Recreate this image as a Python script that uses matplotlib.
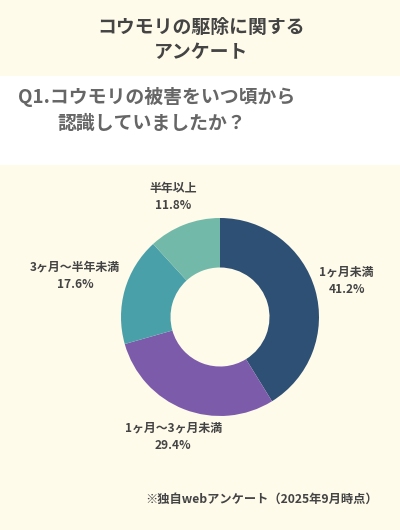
import numpy as np
import matplotlib
matplotlib.use("Agg")
import matplotlib.pyplot as plt
from matplotlib.patches import Rectangle

plt.rcParams['font.family'] = ['Noto Sans CJK JP', 'DejaVu Sans']

categories = ["1ヶ月未満", "1ヶ月〜3ヶ月未満", "3ヶ月〜半年未満", "半年以上"]
values = [41.2, 29.4, 17.6, 11.8]
colors = ["#2e5074", "#7d5bab", "#4aa0a9", "#73b9a9"]
title = "コウモリの駆除に関する\nアンケート"
question_1 = "Q1.コウモリの被害をいつ頃から"
question_2 = "認識していましたか？"
footer = "※独自webアンケート（2025年9月時点）"

W, H = 400, 530
BG = "#fefbeb"
fig = plt.figure(figsize=(W / 100, H / 100), dpi=100, facecolor=BG)

def fx(x):
    return x / W

def fy(y):
    return 1 - y / H

# white band behind the question
fig.patches.append(Rectangle((0, fy(165)), 1, (165 - 76) / H, transform=fig.transFigure,
                             facecolor="white", edgecolor="none", zorder=0))

fig.text(fx(201), fy(40), title, ha="center", va="center", fontsize=13.6, fontweight="bold",
         color="#444444", linespacing=1.4)
fig.text(fx(18), fy(97), question_1, ha="left", va="center", fontsize=13.6, fontweight="bold",
         color="#666666")
fig.text(fx(57), fy(123), question_2, ha="left", va="center", fontsize=13.6, fontweight="bold",
         color="#666666")
fig.text(fx(378), fy(499), footer, ha="right", va="center", fontsize=8.8, fontweight="bold",
         color="#444444")

cx, cy, r = 220, 317, 99
ax = fig.add_axes([fx(cx - r), fy(cy + r), 2 * r / W, 2 * r / H])
ax.set_facecolor("none")
wedges, _ = ax.pie(values, colors=colors, startangle=90, counterclock=False, radius=1.0,
                   wedgeprops=dict(width=0.5, edgecolor="none"))
ax.set_xlim(-1, 1)
ax.set_ylim(-1, 1)
ax.set_aspect("equal")
ax.axis("off")

label_dist = [1.33, 1.3, 1.52, 1.3]
for w, cat, v, d in zip(wedges, categories, values, label_dist):
    ang = np.deg2rad((w.theta1 + w.theta2) / 2)
    ax.text(d * np.cos(ang), d * np.sin(ang), f"{cat}\n{v:.1f}%", ha="center", va="center",
            fontsize=8.6, fontweight="bold", color="#444444", linespacing=1.45, clip_on=False)

fig.savefig("out.png", dpi=100, facecolor=BG)
